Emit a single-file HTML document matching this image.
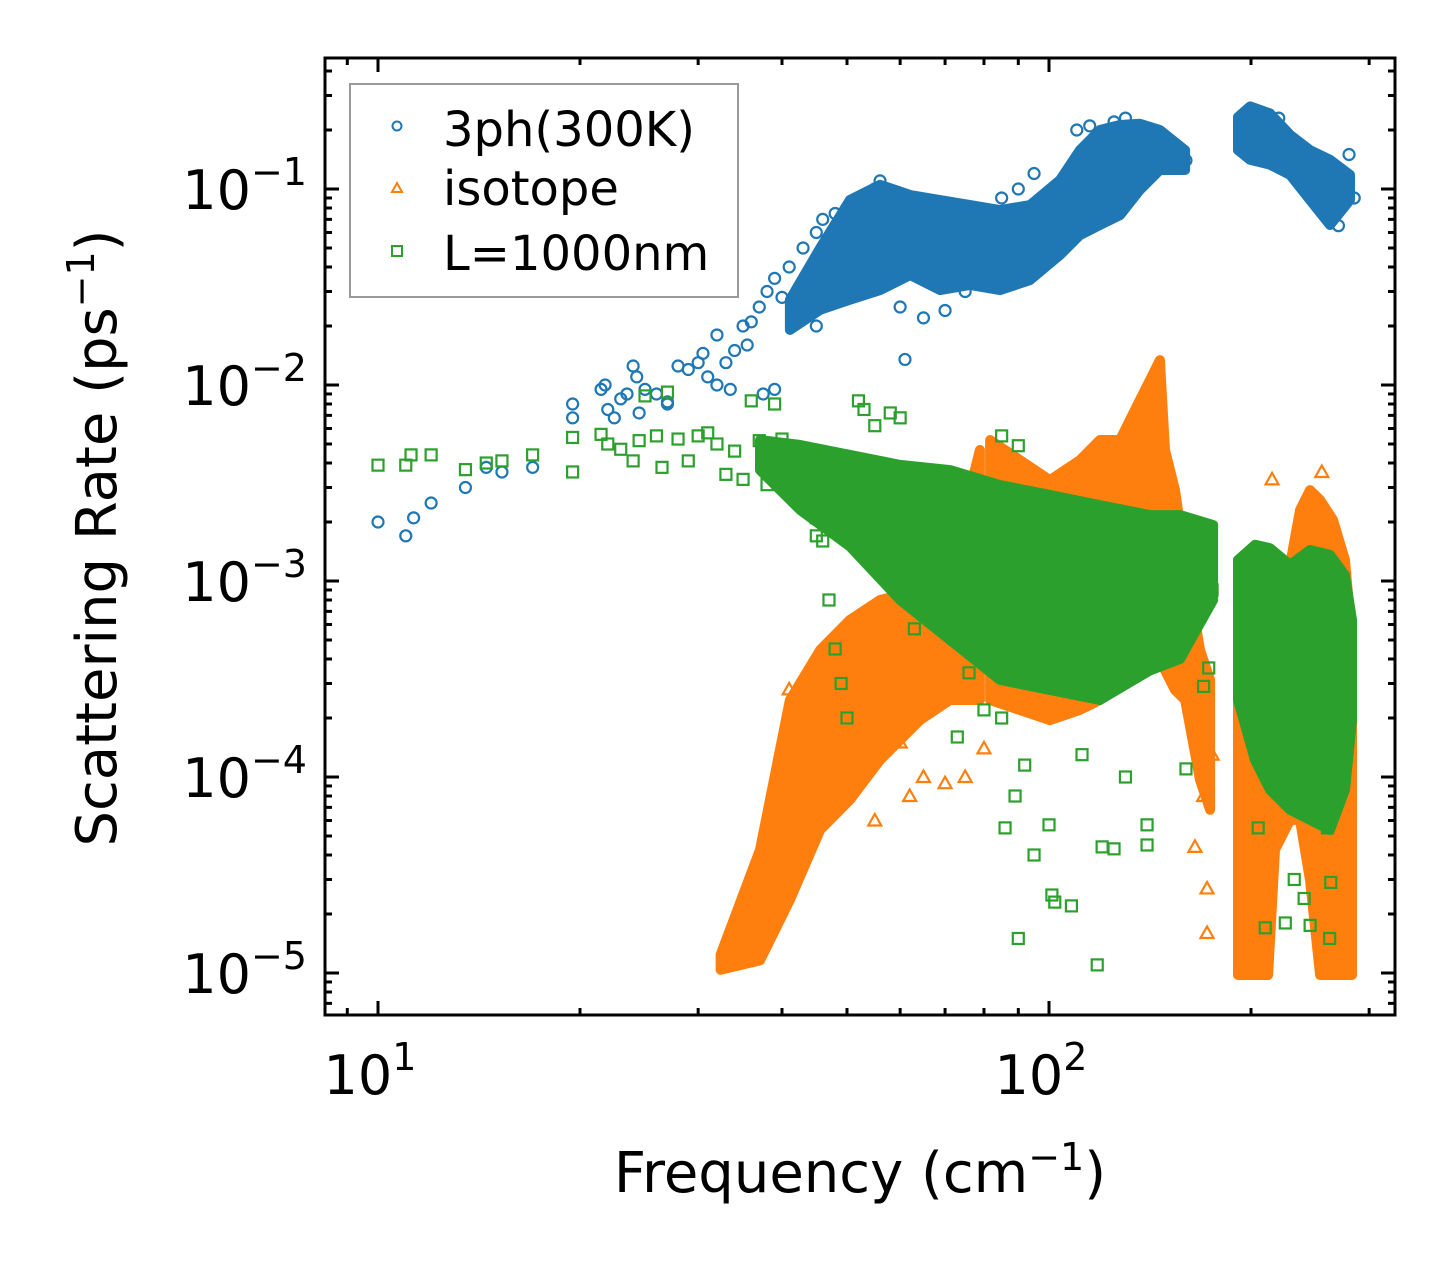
<!DOCTYPE html>
<html><head><meta charset="utf-8"><style>
html,body{margin:0;padding:0;background:#fff;}
svg{display:block;font-family:"DejaVu Sans","Liberation Sans",sans-serif;}
</style></head><body>
<svg id="chart" width="1455" height="1265" viewBox="0 0 1455 1265" xmlns="http://www.w3.org/2000/svg">
<rect x="0" y="0" width="1455" height="1265" fill="#fff"/>
<defs><clipPath id="plotclip"><rect x="325" y="58" width="1070" height="957"/></clipPath></defs>
<g id="marks" clip-path="url(#plotclip)"></g>
<g id="axes"></g>
<rect x="325" y="58" width="1070" height="957" fill="none" stroke="#000" stroke-width="3"/>
<g>
<rect x="350" y="84" width="388" height="213" fill="#fff" fill-opacity="0.8" stroke="#999" stroke-width="2"/>
<circle cx="397" cy="126" r="4.5" fill="none" stroke="#1f77b4" stroke-width="2"/>
<text x="443" y="146" font-size="48">3ph(300K)</text>
<path d="M397,183 L402,192 L392,192 Z" fill="none" stroke="#ff7f0e" stroke-width="2"/>
<text x="443" y="205" font-size="48">isotope</text>
<rect x="392" y="246" width="10" height="10" fill="none" stroke="#2ca02c" stroke-width="2"/>
<text x="443" y="270" font-size="48">L=1000nm</text>
</g>
<text x="860" y="1192" font-size="56" text-anchor="middle">Frequency (cm<tspan dy="-22" font-size="38">−1</tspan><tspan dy="22">)</tspan></text>
<text transform="translate(116,538) rotate(-90)" font-size="56" text-anchor="middle">Scattering Rate (ps<tspan dy="-22" font-size="38">−1</tspan><tspan dy="22">)</tspan></text>
</svg>
<script>
// ---- data ----
const blueBand1Freq=[41.1,45.6,50.5,56.0,62.1,68.8,76.3,84.5,93.7,103.8,111.2,119.1,127.6,136.6,146.3,159.5];
const blueBand1Hi=[0.0272,0.05,0.0879,0.105,0.0932,0.0879,0.0828,0.0781,0.0828,0.111,0.158,0.200,0.212,0.215,0.200,0.158];
const blueBand1Lo=[0.0191,0.0242,0.0272,0.0305,0.0364,0.0305,0.0324,0.0305,0.0343,0.046,0.0582,0.0655,0.0736,0.0989,0.125,0.125];
const blueBand2Freq=[191.3,199.4,213.5,228.7,244.9,262.3,280.9];
const blueBand2Hi=[0.233,0.264,0.243,0.189,0.158,0.141,0.118];
const blueBand2Lo=[0.158,0.141,0.133,0.118,0.0879,0.0655,0.0879];
const bluePtsFreq=[10,11,11.3,12,13.5,14.5,15.3,17,19.5,19.5,21.5,21.8,22,22.5,23,23.5,24,24.3,24.5,25,26,27,27,28,29,30,30.5,31,32,32,33,33.5,34,35,35.5,36,37,37.5,38,39,39,40,41,42,43,44,45,45,46,47,48,50,52,55,56,60,61,65,70,75,85,90,95,110,115,125,130,160,200,220,270,280,285];
const bluePtsRate=[0.002,0.0017,0.0021,0.0025,0.003,0.0038,0.0036,0.0038,0.0068,0.008,0.0095,0.01,0.0075,0.0068,0.0085,0.009,0.0125,0.011,0.0072,0.0095,0.009,0.0082,0.008,0.0125,0.012,0.013,0.0145,0.011,0.01,0.018,0.013,0.0095,0.015,0.02,0.016,0.021,0.025,0.009,0.03,0.035,0.0095,0.028,0.04,0.025,0.05,0.035,0.06,0.02,0.07,0.045,0.075,0.08,0.03,0.1,0.11,0.025,0.0135,0.022,0.024,0.03,0.09,0.1,0.12,0.2,0.21,0.22,0.23,0.14,0.25,0.23,0.065,0.15,0.09];

const orgBand1Freq=[32.4,37.1,41.1,45.6,50.5,56.0,64.2,71.2,78.9];
const orgBand1Hi=[1.24e-5,4.25e-5,2.47e-4,4.45e-4,6.33e-4,8.0e-4,9.0e-4,1.14e-3,4.66e-3];
const orgBand1Lo=[1.04e-5,1.16e-5,2.36e-5,5.37e-5,7.64e-5,1.22e-4,1.95e-4,2.47e-4,2.47e-4];
const orgBand2Freq=[81.7,100.3,111.2,119.1,127.6,136.6,141.4,146.3,148.9,154.1,159.5,167.9,173.8];
const orgBand2Hi=[5.24e-3,3.27e-3,4.14e-3,5.24e-3,5.24e-3,8.38e-3,0.0106,0.0134,4.66e-3,2.91e-3,1.28e-3,4.45e-4,3.13e-4];
const orgBand2Lo=[2.47e-4,1.95e-4,2.2e-4,2.47e-4,3.13e-4,3.95e-4,4.45e-4,3.95e-4,3.5e-4,2.78e-4,2.47e-4,9.66e-5,6.8e-5];
const orgBand3Freq=[191.3,202.8,212.1,217.2,228.7,236.6,244.9,253.5,265.0,276.1,282.9];
const orgBand3Hi=[2.47e-4,2.78e-4,3.95e-4,6.33e-4,1.21e-3,2.30e-3,2.91e-3,2.59e-3,2.05e-3,1.28e-3,5.0e-4];
const orgBand3Lo=[9.77e-6,9.77e-6,9.77e-6,4.25e-5,6.04e-5,6.04e-5,2.98e-5,9.77e-6,9.77e-6,9.77e-6,9.77e-6];
const orgPtsFreq=[41,43,44,45,50,55,60,62,65,70,75,80,85,165,172,172,215,255,175,170];
const orgPtsRate=[0.00028,0.00014,0.0001,0.0002,8e-5,6e-5,0.00015,8e-5,0.0001,9.3e-5,0.0001,0.00014,0.00025,4.4e-5,1.6e-5,2.7e-5,0.0033,0.0036,0.00013,8e-5];

const grnBand1Freq=[37.1,42.6,50.5,60.0,71.2,84.5,100.3,119.1,141.4,156.8,175.6];
const grnBand1Hi=[5.24e-3,4.94e-3,4.40e-3,3.91e-3,3.68e-3,3.09e-3,2.75e-3,2.44e-3,2.17e-3,2.17e-3,1.93e-3];
const grnBand1Lo=[3.68e-3,2.3e-3,1.5e-3,8.0e-4,5.0e-4,3.13e-4,2.78e-4,2.47e-4,3.5e-4,4.0e-4,8.0e-4];
const grnBand2Freq=[191.3,202.8,213.5,228.7,244.9,262.3,276.1,282.9];
const grnBand2Hi=[1.28e-3,1.53e-3,1.47e-3,1.21e-3,1.44e-3,1.36e-3,1.07e-3,6.33e-4];
const grnBand2Lo=[2.47e-4,1.22e-4,8.59e-5,6.8e-5,6.04e-5,5.37e-5,8.59e-5,1.95e-4];
const grnPtsFreq=[10,11,11.2,12,13.5,14.5,15.3,17,19.5,19.5,21.5,22,23,24,24.5,25,26,26.5,27,28,29,30,31,32,33,34,35,36,37,38,39,40,41,42,44,45,45,46,47,48,49,50,52,53,55,58,60,63,65,70,73,76,80,85,86,89,90,92,95,100,101,102,108,112,118,120,125,130,140,140,160,170,173,175,210,225,245,240,232,262,263,260,200,205,85,90];
const grnPtsRate=[0.0039,0.0039,0.0044,0.0044,0.0037,0.004,0.0041,0.0044,0.0054,0.0036,0.0056,0.005,0.0047,0.0041,0.0052,0.0088,0.0055,0.0038,0.0092,0.0053,0.0041,0.0055,0.0057,0.005,0.0035,0.0046,0.0033,0.0083,0.0052,0.0031,0.008,0.0053,0.0048,0.003,0.0025,0.0021,0.0017,0.0016,0.0008,0.00045,0.0003,0.0002,0.0083,0.0075,0.0062,0.0072,0.0068,0.00057,0.00068,0.0006,0.00016,0.00034,0.00022,0.0002,5.5e-5,8e-5,1.5e-5,0.000115,4e-5,5.7e-5,2.5e-5,2.3e-5,2.2e-5,0.00013,1.1e-5,4.4e-5,4.3e-5,0.0001,5.7e-5,4.5e-5,0.00011,0.00029,0.00036,0.0009,1.7e-5,1.8e-5,1.75e-5,2.4e-5,3e-5,1.5e-5,2.9e-5,5.5e-5,0.00021,5.5e-5,0.0055,0.0049];

const xMajorTicks=[10,100];
const xMajorLabels=["1","2"];
const yMajorTicks=[1e-5,1e-4,1e-3,1e-2,1e-1];
const yMajorLabels=["−5","−4","−3","−2","−1"];

// ---- axes ----
const X0=378, XD=671, Y0=189, YD=196;
function sx(f){return X0+XD*(Math.log10(f)-1);}
function sy(r){return Y0-YD*(Math.log10(r)+1);}
const NS="http://www.w3.org/2000/svg";
const marks=document.getElementById('marks');
const axes=document.getElementById('axes');
function mk(tag,attrs,parent){const e=document.createElementNS(NS,tag);for(const k in attrs)e.setAttribute(k,attrs[k]);parent.appendChild(e);return e;}

function band(fr,hi,lo,color,name){
  let pts=[];
  for(let i=0;i<fr.length;i++)pts.push(sx(fr[i]).toFixed(1)+','+sy(hi[i]).toFixed(1));
  for(let i=fr.length-1;i>=0;i--)pts.push(sx(fr[i]).toFixed(1)+','+sy(lo[i]).toFixed(1));
  const p=mk('polygon',{points:pts.join(' '),fill:color,stroke:color,'stroke-width':10,'stroke-linejoin':'round'},marks);
  
  
}
function points(fr,rt,color,shape,name){
  const g=mk('g',{fill:'none',stroke:color,'stroke-width':2.2},marks);
  
  
  for(let i=0;i<fr.length;i++){
    const x=sx(fr[i]),y=sy(rt[i]);let e;
    if(shape==='c')e=mk('circle',{cx:x,cy:y,r:5.5},g);
    else if(shape==='t')e=mk('path',{d:`M${x},${y-6.5} L${x+6.5},${y+5} L${x-6.5},${y+5} Z`},g);
    else e=mk('rect',{x:x-5.5,y:y-5.5,width:11,height:11},g);
    
    
  }
}
band(blueBand1Freq,blueBand1Hi,blueBand1Lo,'#1f77b4','3ph-dense-band-1');
band(blueBand2Freq,blueBand2Hi,blueBand2Lo,'#1f77b4','3ph-dense-band-2');
points(bluePtsFreq,bluePtsRate,'#1f77b4','c','3ph-series');
band(orgBand1Freq,orgBand1Hi,orgBand1Lo,'#ff7f0e','isotope-dense-band-1');
band(orgBand2Freq,orgBand2Hi,orgBand2Lo,'#ff7f0e','isotope-dense-band-2');
band(orgBand3Freq,orgBand3Hi,orgBand3Lo,'#ff7f0e','isotope-dense-band-3');
points(orgPtsFreq,orgPtsRate,'#ff7f0e','t','isotope-series');
band(grnBand1Freq,grnBand1Hi,grnBand1Lo,'#2ca02c','boundary-dense-band-1');
band(grnBand2Freq,grnBand2Hi,grnBand2Lo,'#2ca02c','boundary-dense-band-2');
points(grnPtsFreq,grnPtsRate,'#2ca02c','s','boundary-series');

// ticks
const L=325,R=1395,T=58,B=1015;
function tick(x1,y1,x2,y2,name){const l=mk('line',{x1,y1,x2,y2,stroke:'#000','stroke-width':3},axes);}
for(let d=0;d<=2;d++){for(let m=1;m<=9;m++){
  const f=m*Math.pow(10,d);const x=sx(f);if(x<L||x>R)continue;
  const len=m===1?14:7;
  tick(x,B,x,B-len,'x-tick');tick(x,T,x,T+len,'x-tick-top');
}}
for(let d=-6;d<=-1;d++){for(let m=1;m<=9;m++){
  const r=m*Math.pow(10,d);const y=sy(r);if(y<T||y>B)continue;
  const len=m===1?14:7;
  tick(L,y,L+len,y,'y-tick');tick(R,y,R-len,y,'y-tick-right');
}}
xMajorTicks.forEach((v,i)=>{
  const t=mk('text',{x:sx(v)-8,y:1094,'font-size':54,'text-anchor':'middle'},axes);
  t.textContent='10';
  const s=mk('tspan',{dy:-24,'font-size':38},t);s.textContent=xMajorLabels[i];
  
  
});
yMajorTicks.forEach((v,i)=>{
  const t=mk('text',{x:307,y:sy(v)+20,'font-size':54,'text-anchor':'end'},axes);
  t.textContent='10';
  const s=mk('tspan',{dy:-24,'font-size':38},t);s.textContent=yMajorLabels[i];
  
  
});
</script>
</body></html>
